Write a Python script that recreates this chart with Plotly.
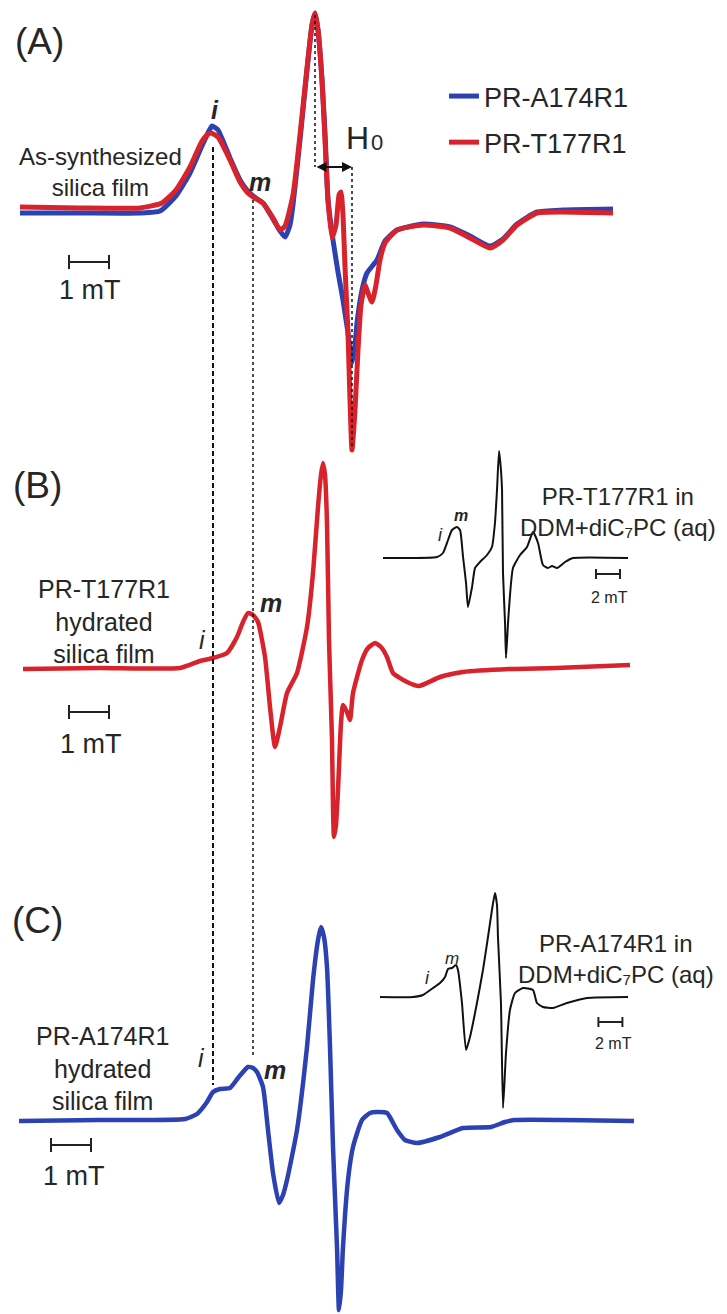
import plotly.graph_objects as go

# ---------------- data (field offset in mT, intensity in arb. units) ----------------
# Panel A: as-synthesized silica film
a_blue_field = [0, 1.5, 3.0, 3.5, 3.9, 4.25, 4.525, 4.7, 4.8, 4.95, 5.25, 5.5, 5.675, 5.825, 6.075,
                6.325, 6.5, 6.625, 6.75, 6.825, 7.0, 7.175, 7.3, 7.375, 7.45, 7.55, 7.625, 7.7, 7.825,
                7.95, 8.075, 8.2, 8.3, 8.375, 8.425, 8.55, 8.675, 8.925, 9.125, 9.425, 10.075, 10.75,
                11.25, 11.75, 12.075, 12.425, 12.925, 13.575, 14.825]
a_blue_int = [-1, -1, -1, 1, 16, 39, 64, 79, 86, 82, 54, 32, 22, 16, 9,
              -7, -19, -25, -13, 7, 72, 142, 187, 199, 182, 132, 79, 12, -28,
              -60, -88, -121, -151, -133, -111, -78, -61, -48, -29, -18, -12, -15,
              -24, -34, -27, -12, 0, 2, 3]

a_red_field = [0, 1.5, 3.0, 3.55, 3.9, 4.25, 4.525, 4.675, 4.775, 4.95, 5.25, 5.5, 5.675, 5.825, 6.075,
               6.325, 6.5, 6.625, 6.825, 7.0, 7.175, 7.3, 7.375, 7.45, 7.55, 7.625, 7.7, 7.8, 7.9,
               7.975, 8.025, 8.075, 8.125, 8.2, 8.25, 8.3, 8.375, 8.45, 8.525, 8.625, 8.7, 8.8, 8.9,
               9.0, 9.125, 9.425, 10.075, 10.75, 11.25, 11.75, 12.075, 12.425, 12.925, 13.575, 14.825]
a_red_int = [5, 4, 4, 9, 22, 45, 69, 77, 79, 75, 52, 30, 20, 15, 9,
             -6, -18, -14, 17, 77, 144, 187, 199, 182, 132, 72, 12, -26, -13,
             17, 20, -3, -55, -121, -188, -238, -198, -138, -93, -73, -81, -90, -73,
             -48, -31, -18, -13, -16, -26, -36, -28, -13, -1, 0, -1]

# Panel B: PR-T177R1 hydrated silica film
b_field = [0.075, 2.0, 4.0, 4.5, 4.825, 5.175, 5.425, 5.575, 5.7, 5.825, 5.95, 6.125, 6.25, 6.375, 6.5,
           6.675, 6.925, 7.175, 7.325, 7.45, 7.525, 7.575, 7.625, 7.675, 7.725, 7.8, 7.825, 7.85, 7.9,
           7.95, 8.025, 8.075, 8.175, 8.25, 8.325, 8.55, 8.7, 8.875, 9.025, 9.175, 9.325, 9.675, 9.975,
           10.5, 11.075, 12.225, 13.4, 15.25]
b_int = [-1, 0, 0, 7, 10, 15, 31, 46, 55, 53, 46, 11, -39, -79, -59,
         -25, -5, 41, 95, 161, 193, 205, 193, 145, 28, -72, -139, -169, -157,
         -122, -55, -37, -44, -52, -25, 8, 20, 25, 21, 11, -5, -14, -18,
         -9, -4, -1, 0, 3]

# Panel C: PR-A174R1 hydrated silica film
c_field = [-0.025, 2.0, 4.125, 4.425, 4.675, 4.825, 5.0, 5.25, 5.45, 5.7, 5.825, 5.925, 6.075, 6.2, 6.325,
           6.475, 6.575, 6.675, 6.925, 7.175, 7.325, 7.45, 7.525, 7.6, 7.675, 7.75, 7.825, 7.925, 7.975,
           8.025, 8.075, 8.2, 8.325, 8.55, 8.75, 8.925, 9.175, 9.425, 9.625, 9.925, 10.5, 11.075, 11.775,
           12.125, 12.35, 15.35]
c_int = [-1, 0, 1, 6, 18, 28, 31, 32, 42, 53, 52, 48, 33, -10, -53,
         -83, -75, -60, -10, 73, 140, 180, 193, 183, 153, 73, -27, -127, -190,
         -170, -127, -60, -27, 0, 7, 8, 7, -10, -20, -23, -17, -8, -7,
         -2, 0, -1]

# Insets: spectra in DDM+diC7PC (aq)
ib_field = [0.25, 2.75, 4.75, 5.25, 5.67, 6.0, 6.42, 6.67, 6.92, 7.17, 7.33, 7.67, 7.92, 8.33, 8.92,
            9.33, 9.58, 9.75, 9.92, 10.08, 10.17, 10.25, 10.42, 10.5, 10.67, 10.92, 11.08, 11.67, 12.25,
            12.75, 13.17, 13.58, 14.0, 14.33, 14.75, 15.42, 16.08, 20.67]
ib_int = [0, 0, 1, 5, 18, 28, 31, 28, 1, -25, -49, -29, -10, -4, 3,
          11, 35, 68, 107, 88, 68, -15, -65, -100, -65, -25, -10, 3, 11,
          26, 15, -7, -10, -8, -10, -4, 0, 0]

ic_field = [0, 2.75, 3.58, 4.42, 5.0, 5.42, 5.67, 6.0, 6.33, 6.5, 6.83, 7.17, 7.5, 8.08, 8.58,
            9.0, 9.33, 9.58, 9.75, 9.83, 10.08, 10.25, 10.5, 10.83, 11.25, 11.92, 12.75, 13.08, 13.58,
            14.42, 15.58, 17.25, 20.67]
ic_int = [0, 0, 2, 9, 14, 20, 28, 29, 32, 27, -6, -53, -40, -6, 27,
          60, 87, 104, 92, 60, -6, -111, -56, -13, 4, 9, 7, -6, -10,
          -11, -6, -1, 0]

series_names = ["PR-A174R1", "PR-T177R1"]
i_field, m_field = 4.825, 5.825          # i and m component positions (mT)
h0_low, h0_high = 7.375, 8.3              # H0 marker (mT)

# ---------------- layout helpers ----------------
W, H = 727, 1314
BLUE = "#2c42b3"
RED = "#d9232c"
TXT = "#262626"
FONT = "Liberation Sans, Arial, sans-serif"


def px(x, y):
    return x / W, 1 - y / H


def yr(base):
    return [base - H, base]


fig = go.Figure()
fig.add_trace(go.Scatter(x=a_blue_field, y=a_blue_int, name=series_names[0], mode="lines",
                         line=dict(color=BLUE, width=5, shape="spline", smoothing=0.5),
                         xaxis="x", yaxis="y", legendgroup="a"))
fig.add_trace(go.Scatter(x=a_red_field, y=a_red_int, name=series_names[1], mode="lines",
                         line=dict(color=RED, width=5, shape="spline", smoothing=0.5),
                         xaxis="x", yaxis="y", legendgroup="b"))
fig.add_trace(go.Scatter(x=b_field, y=b_int, mode="lines", showlegend=False,
                         line=dict(color=RED, width=4.5, shape="spline", smoothing=0.5),
                         xaxis="x", yaxis="y2"))
fig.add_trace(go.Scatter(x=c_field, y=c_int, mode="lines", showlegend=False,
                         line=dict(color=BLUE, width=4.5, shape="spline", smoothing=0.5),
                         xaxis="x", yaxis="y3"))
fig.add_trace(go.Scatter(x=ib_field, y=ib_int, mode="lines", showlegend=False,
                         line=dict(color="#111111", width=2, shape="spline", smoothing=0.5),
                         xaxis="x2", yaxis="y4"))
fig.add_trace(go.Scatter(x=ic_field, y=ic_int, mode="lines", showlegend=False,
                         line=dict(color="#111111", width=2, shape="spline", smoothing=0.5),
                         xaxis="x2", yaxis="y5"))

hid = dict(visible=False, showgrid=False, zeroline=False, fixedrange=True)
fig.update_layout(
    width=W, height=H, autosize=False,
    margin=dict(l=0, r=0, t=0, b=0, pad=0),
    paper_bgcolor="white", plot_bgcolor="white",
    font=dict(family=FONT, color=TXT),
    hovermode=False,
    xaxis=dict(range=[-20 / 40, (W - 20) / 40], domain=[0, 1], **hid),
    xaxis2=dict(range=[-380 / 12, (W - 380) / 12], overlaying="x", **hid),
    yaxis=dict(range=yr(212), domain=[0, 1], **hid),
    yaxis2=dict(range=yr(668), overlaying="y", **hid),
    yaxis3=dict(range=yr(1120), overlaying="y", **hid),
    yaxis4=dict(range=yr(558), overlaying="y", **hid),
    yaxis5=dict(range=yr(997), overlaying="y", **hid),
    showlegend=True,
    legend=dict(x=444 / W, y=1 - 72 / H, xanchor="left", yanchor="top",
                font=dict(size=27, family=FONT, color=TXT), bgcolor="rgba(0,0,0,0)",
                tracegroupgap=8, itemwidth=30),
)

# dashed guide lines for i and m
fig.add_shape(type="line", xref="x", yref="paper", x0=i_field, x1=i_field,
              y0=px(0, 147)[1], y1=px(0, 1085)[1], line=dict(color="#111", width=2, dash="5px,3px"))
fig.add_shape(type="line", xref="x", yref="paper", x0=m_field, x1=m_field,
              y0=px(0, 200)[1], y1=px(0, 1058)[1], line=dict(color="#111", width=1.5, dash="3px,3px"))
# H0 dotted markers
fig.add_shape(type="line", xref="x", yref="y", x0=h0_low, x1=h0_low, y0=197, y1=45,
              line=dict(color="#111", width=1.5, dash="dot"))
fig.add_shape(type="line", xref="x", yref="y", x0=h0_high, x1=h0_high, y0=45, y1=-236,
              line=dict(color="#111", width=1.5, dash="dot"))
fig.add_annotation(x=h0_high, y=45, ax=h0_low, ay=45, xref="x", yref="y", axref="x", ayref="y",
                   text="", showarrow=True, arrowhead=2, arrowside="end+start", arrowsize=1,
                   arrowwidth=2, arrowcolor="#111")


def scalebar(xref, yref, x0, length, y, tick):
    c = dict(color="#222", width=2)
    fig.add_shape(type="line", xref=xref, yref=yref, x0=x0, x1=x0 + length, y0=y, y1=y, line=c)
    fig.add_shape(type="line", xref=xref, yref=yref, x0=x0, x1=x0, y0=y - tick, y1=y + tick, line=c)
    fig.add_shape(type="line", xref=xref, yref=yref, x0=x0 + length, x1=x0 + length,
                  y0=y - tick, y1=y + tick, line=c)


scalebar("x", "y", 1.225, 1.0, -50, 7)
scalebar("x", "y2", 1.225, 1.0, -44, 7)
scalebar("x", "y3", 0.775, 1.0, -25, 7)
scalebar("x2", "y4", 18.0, 2.0, -16, 5)
scalebar("x2", "y5", 18.2, 2.0, -25, 5)


def txt(x, y, s, size, **kw):
    xx, yy = px(x, y)
    fig.add_annotation(x=xx, y=yy, xref="paper", yref="paper", text=s, showarrow=False,
                       font=dict(size=size, family=FONT, color=TXT), xanchor="center",
                       yanchor="middle", **kw)


txt(39, 41, "(A)", 37)
txt(37, 486, "(B)", 37)
txt(37, 920, "(C)", 37)
txt(100, 172, "As-synthesized<br>silica film", 24)
txt(104, 622, "PR-T177R1<br>hydrated<br>silica film", 25)
txt(102, 1068, "PR-A174R1<br>hydrated<br>silica film", 25)
txt(90, 290, "1 mT", 27)
txt(91, 744, "1 mT", 27)
txt(74, 1176, "1 mT", 27)
txt(215, 110, "<b><i>i</i></b>", 25)
txt(260, 182, "<b><i>m</i></b>", 25)
txt(203, 640, "<i>i</i>", 25)
txt(271, 603, "<b><i>m</i></b>", 25)
txt(201, 1058, "<i>i</i>", 25)
txt(275, 1070, "<b><i>m</i></b>", 25)
txt(357, 138, "H", 32)
txt(377, 143, "0", 22)
txt(618, 512, "PR-T177R1 in<br>DDM+diC₇PC (aq)", 24)
txt(616, 959, "PR-A174R1 in<br>DDM+diC₇PC (aq)", 24)
txt(609, 597, "2 mT", 16)
txt(613, 1043, "2 mT", 16)
txt(440, 535, "<i>i</i>", 18)
txt(461, 515, "<b><i>m</i></b>", 16)
txt(428, 978, "<i>i</i>", 18)
txt(452, 958, "<i>m</i>", 17)

fig.write_html("out.html", config={"displayModeBar": False},
               post_script="document.body.style.margin='0';")
